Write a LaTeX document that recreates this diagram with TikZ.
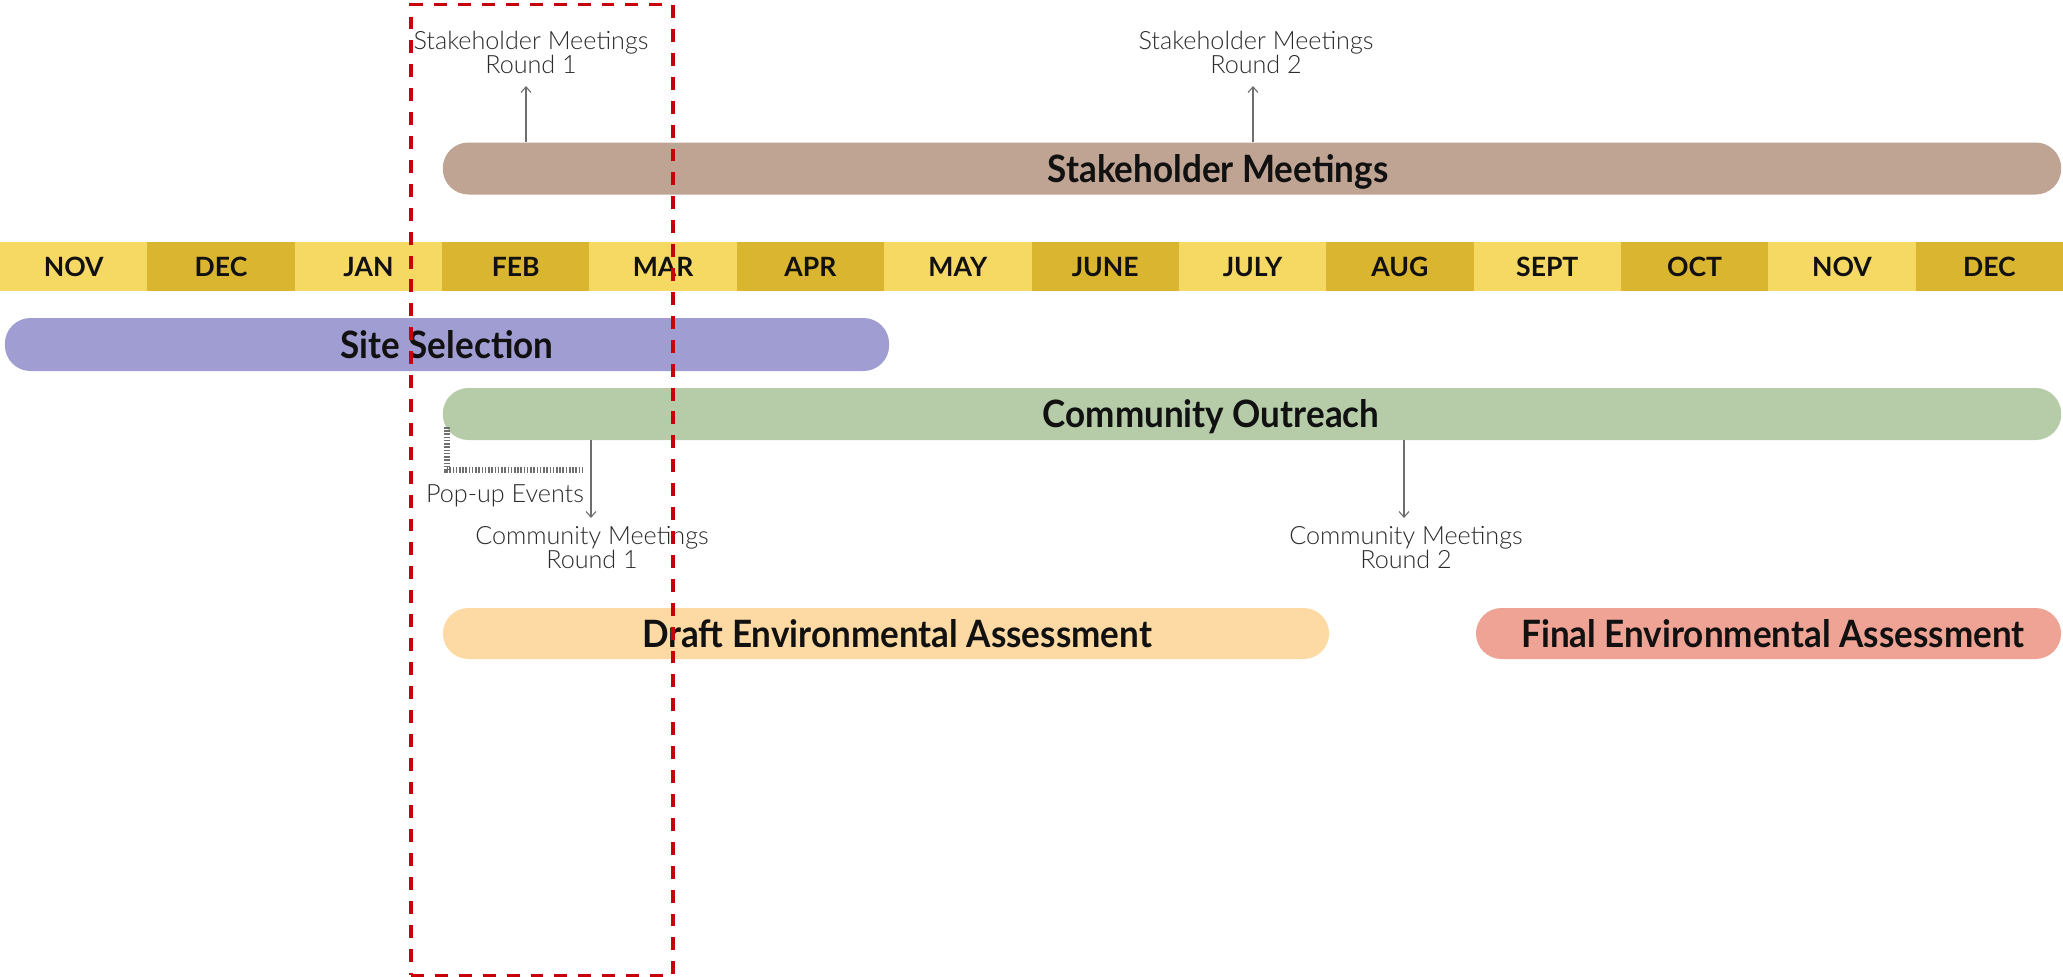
\documentclass[tikz,border=0pt]{standalone}
\usepackage{fontspec}
\setmainfont{Lato}
\newfontfamily\fuenteleve{Lato Light}
\newfontfamily\fuenteneg{Lato}[FakeStretch=0.93]
\usepackage{tikz}
\usetikzlibrary{arrows.meta,positioning}
\definecolor{mesclaro}{HTML}{F6D963}
\definecolor{mesoscuro}{HTML}{DAB52F}
\definecolor{actores}{HTML}{BFA494}
\definecolor{sitio}{HTML}{9F9DD1}
\definecolor{comunidad}{HTML}{B6CCA9}
\definecolor{borrador}{HTML}{FDDAA4}
\definecolor{definitivo}{HTML}{EFA395}
\definecolor{tinta}{HTML}{111111}
\definecolor{tinta2}{HTML}{2A2A2A}
\definecolor{tenue}{HTML}{6E6E6E}
\definecolor{rojo}{HTML}{C8000A}
\tikzset{
  mes/.style={rectangle,inner sep=0pt,minimum width=3.684cm,minimum height=1.225cm,text height=13.5pt,text depth=0pt,font=\fontsize{18.9}{20}\selectfont\bfseries,text=tinta},
  barra/.style={rectangle,rounded corners=0.64cm,inner sep=0pt,minimum height=1.3cm},
  rotulo/.style={inner sep=0pt,anchor=base,font=\fuenteneg\fontsize{26.8}{30}\selectfont\bfseries,text=tinta},
  nota/.style={inner sep=0pt,anchor=base,align=center,font=\fuenteleve\fontsize{17.9}{16.4}\selectfont,text=tinta2},
  flecha/.style={draw=tenue,line width=0.8pt,-{Straight Barb[length=4pt,width=7pt]}},
  regla/.style={draw=tenue,line width=4.6pt,dash pattern=on 1.1pt off 1.2pt},
  marco/.style={draw=rojo,line width=2.3pt,dash pattern=on 9.2pt off 7.8pt,inner sep=0pt,minimum width=6.55cm,minimum height=24.25cm},
}

\begin{document}
\begin{tikzpicture}[x=0.025cm,y=-0.025cm]
\useasboundingbox (0,0) rectangle (2063,976);
\foreach \nombre/\tono [count=\i from 0] in {NOV/mesclaro,DEC/mesoscuro,JAN/mesclaro,FEB/mesoscuro,MAR/mesclaro,APR/mesoscuro,MAY/mesclaro,JUNE/mesoscuro,JULY/mesclaro,AUG/mesoscuro,SEPT/mesclaro,OCT/mesoscuro,NOV/mesclaro,DEC/mesoscuro}
  \node[mes,fill=\tono] (m\i) at ({147.36*(\i+0.5)},266.5) {\nombre};
\node[barra,fill=actores,minimum width=40.45cm] (reuniones) at (1252,168.5) {};
\node[barra,fill=sitio,minimum width=22.1cm,minimum height=1.325cm] (seleccion) at (447,344.5) {};
\node[barra,fill=comunidad,minimum width=40.45cm] (alcance) at (1252,414) {};
\node[barra,fill=borrador,minimum width=22.15cm,minimum height=1.275cm] (borradorea) at (886,633.5) {};
\node[barra,fill=definitivo,minimum width=14.625cm,minimum height=1.275cm] (finalea) at (1768.5,633.5) {};
\node[rotulo] (t-reuniones) at (1218,182) {Stakeholder Meetings};
\node[rotulo] (t-seleccion) at (447,358) {Site Selection};
\node[rotulo] (t-alcance) at (1211,427) {Community Outreach};
\node[rotulo] (t-borrador) at (897,647) {Draft Environmental Assessment};
\node[rotulo] (t-final) at (1773,647) {Final Environmental Assessment};
\node[nota] (sm1) at (531,73) {Stakeholder Meetings\\Round 1};
\node[nota] (sm2) at (1256,73) {Stakeholder Meetings\\Round 2};
\node[nota] (cm1) at (592,568) {Community Meetings\\Round 1};
\node[nota] (cm2) at (1406,568) {Community Meetings\\Round 2};
\node[nota] (popup) at (505,502) {Pop-up Events};
\coordinate (p1) at (526,86);
\coordinate (p2) at (1253,86);
\coordinate (p3) at (591,518);
\coordinate (p4) at (1404,518);
\draw[flecha] (p1 |- reuniones.north) -- (p1);
\draw[flecha] (p2 |- reuniones.north) -- (p2);
\draw[flecha] (p3 |- alcance.south) -- (p3);
\draw[flecha] (p4 |- alcance.south) -- (p4);
\coordinate (q1) at (447,427);
\coordinate (q2) at (447,470);
\coordinate (q3) at (585,470);
\draw[regla] (q1) -- (q2) -- (q3);
\node[marco] (foco) at (542,490) {};
\end{tikzpicture}
\end{document}
